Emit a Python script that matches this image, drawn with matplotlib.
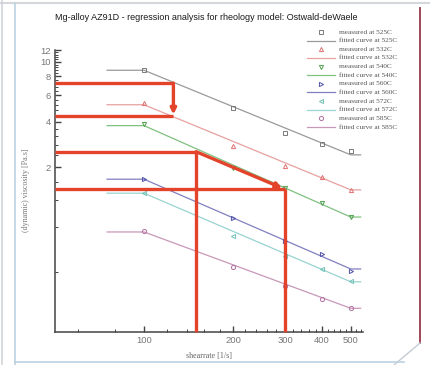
import matplotlib
matplotlib.use("Agg")
import matplotlib.pyplot as plt
from matplotlib.lines import Line2D
import numpy as np

# ---------------- data ----------------
temps = ['525C', '532C', '540C', '560C', '572C', '585C']
shear = [100, 200, 300, 400, 500]
visc_525 = [8.9, 4.92, 3.36, 2.85, 2.55]
visc_532 = [5.32, 2.77, 2.04, 1.72, 1.41]
visc_540 = [3.85, 1.97, 1.45, 1.15, 0.93]
visc_560 = [1.66, 0.91, 0.645, 0.53, 0.406]
visc_572 = [1.35, 0.70, 0.51, 0.42, 0.348]
visc_585 = [0.75, 0.43, 0.326, 0.267, 0.231]

fit_shear = [75, 100, 500, 540]
fit_525 = [8.8, 8.8, 2.41, 2.41]
fit_532 = [5.19, 5.19, 1.41, 1.41]
fit_540 = [3.77, 3.77, 0.93, 0.93]
fit_560 = [1.66, 1.66, 0.42, 0.42]
fit_572 = [1.34, 1.34, 0.345, 0.345]
fit_585 = [0.74, 0.74, 0.23, 0.23]

# red annotation guides (data coordinates)
guide1_x = [50, 125.7]
guide1_y = [7.22, 4.34]
guide2_x = [50, 150]
guide2_y = 2.53
guide2_arrow_end = (293, 1.45)
guide3_x = [50, 300]
guide3_y = 1.42

x_major = [100, 200, 300, 400, 500]
x_minor = [60, 80, 120, 140, 160, 180, 220, 240, 260, 280, 320, 340, 360, 380,
           420, 440, 460, 480, 520, 540]
y_major = [2, 4, 6, 8, 10, 12]

measured = [visc_525, visc_532, visc_540, visc_560, visc_572, visc_585]
fitted = [fit_525, fit_532, fit_540, fit_560, fit_572, fit_585]
markers = ['s', '^', 'v', '>', '<', 'o']
mcolors = ['#7a7a7a', '#e07070', '#50a050', '#5050a8', '#70c0b8', '#b070a0']
lcolors = ['#9a9a9a', '#e8a0a0', '#80c080', '#8080c0', '#98d4d0', '#c898b8']

# ---------------- figure ----------------
W, H = 430, 365
fig = plt.figure(figsize=(W / 100, H / 100), dpi=100)
fig.patch.set_facecolor('white')


def fx(x):
    return x / W


def fy(y):
    return 1 - y / H


ax = fig.add_axes([fx(55), fy(332), fx(363) - fx(55), fy(50) - fy(332)])
ax.set_xscale('log')
ax.set_yscale('log')
ax.set_xlim(50, 550)
ax.set_ylim(0.16, 12)

for vals, fvals, m, mc, lc in zip(measured, fitted, markers, mcolors, lcolors):
    ax.plot(fit_shear, fvals, color=lc, lw=0.9, zorder=2)
    ax.plot(shear, vals, linestyle='none', marker=m, markersize=3,
            markerfacecolor='none', markeredgecolor=mc, markeredgewidth=0.7, zorder=3)

# spines
for s in ['top', 'right']:
    ax.spines[s].set_visible(False)
for s in ['left', 'bottom']:
    ax.spines[s].set_color('#444444')
    ax.spines[s].set_linewidth(1.1)

ax.xaxis.set_major_locator(matplotlib.ticker.FixedLocator(x_major))
ax.xaxis.set_minor_locator(matplotlib.ticker.FixedLocator(x_minor))
ax.xaxis.set_major_formatter(matplotlib.ticker.FixedFormatter([str(v) for v in x_major]))
ax.xaxis.set_minor_formatter(matplotlib.ticker.NullFormatter())
y_minor = [round(0.4 * k, 1) for k in range(1, 30) if round(0.4 * k, 1) not in y_major]
ax.yaxis.set_major_locator(matplotlib.ticker.FixedLocator(y_major))
ax.yaxis.set_minor_locator(matplotlib.ticker.FixedLocator(y_minor))
ax.yaxis.set_major_formatter(matplotlib.ticker.FixedFormatter([str(v) for v in y_major]))
ax.yaxis.set_minor_formatter(matplotlib.ticker.NullFormatter())

ax.tick_params(which='major', direction='in', length=4.5, width=1.0, color='#444444',
               labelsize=6.8, labelcolor='#777777', pad=3)
ax.tick_params(which='minor', direction='in', length=2.2, width=0.7, color='#444444')
for lab in ax.get_xticklabels() + ax.get_yticklabels():
    lab.set_family('Liberation Sans')

ax.set_xlabel('shearrate [1/s]', family='Liberation Serif', fontsize=5.8, color='#666666',
              labelpad=1)
ax.xaxis.set_label_coords((209 - 55) / (363 - 55), -(352 - 332) / (332 - 50))
ax.set_ylabel('(dynamic) viscosity [Pa.s]', family='Liberation Serif', fontsize=5.8,
              color='#777777')
ax.yaxis.set_label_coords(-(55 - 30) / (363 - 55), (332 - 190) / (332 - 50))

# red annotations
rc = '#e3432b'
rlw = 2.4
ax.plot([guide1_x[0], guide1_x[1]], [guide1_y[0], guide1_y[0]], color=rc, lw=rlw,
        zorder=5, clip_on=False, solid_capstyle='butt')
ax.plot([guide1_x[0], guide1_x[1]], [guide1_y[1], guide1_y[1]], color=rc, lw=rlw,
        zorder=5, clip_on=False, solid_capstyle='butt')
ax.annotate('', xy=(guide1_x[1], guide1_y[1] * 1.03), xytext=(guide1_x[1], guide1_y[0]),
            arrowprops=dict(arrowstyle='-|>', color=rc, lw=rlw, mutation_scale=8,
                            shrinkA=0, shrinkB=0), zorder=5)
ax.plot(guide2_x, [guide2_y, guide2_y], color=rc, lw=rlw, zorder=5, clip_on=False,
        solid_capstyle='butt')
ax.plot([guide2_x[1], guide2_x[1]], [guide2_y, 0.16], color=rc, lw=rlw, zorder=5,
        clip_on=False, solid_capstyle='butt')
ax.annotate('', xy=guide2_arrow_end, xytext=(guide2_x[1], guide2_y),
            arrowprops=dict(arrowstyle='-|>', color=rc, lw=rlw, mutation_scale=8,
                            shrinkA=0, shrinkB=0), zorder=5)
ax.plot(guide3_x, [guide3_y, guide3_y], color=rc, lw=rlw, zorder=5, clip_on=False,
        solid_capstyle='butt')
ax.plot([guide3_x[1], guide3_x[1]], [guide3_y, 0.16], color=rc, lw=rlw, zorder=5,
        clip_on=False, solid_capstyle='butt')

# title
fig.text(fx(206), fy(17), 'Mg-alloy AZ91D - regression analysis for rheology model: Ostwald-deWaele',
         ha='center', va='center', fontsize=6.5, family='Liberation Sans', color='#1a1a1a')

# legend (manual, Tecplot style)
row0, dy = 32, 8.64
for i, (t, m, mc, lc) in enumerate(zip(temps, markers, mcolors, lcolors)):
    ym = row0 + (2 * i) * dy
    yf = row0 + (2 * i + 1) * dy
    fig.add_artist(Line2D([fx(321)], [fy(ym)], marker=m, markersize=3, linestyle='none',
                          markerfacecolor='none', markeredgecolor=mc, markeredgewidth=0.7,
                          transform=fig.transFigure))
    fig.add_artist(Line2D([fx(307), fx(335)], [fy(yf), fy(yf)], color=lc, lw=0.9,
                          transform=fig.transFigure))
    fig.text(fx(339), fy(ym), 'measured at ' + t, fontsize=5.2, family='Liberation Serif',
             color='#555555', va='center', ha='left')
    fig.text(fx(339), fy(yf), 'fitted curve at ' + t, fontsize=5.2, family='Liberation Serif',
             color='#555555', va='center', ha='left')

# screenshot frame decorations
def fl(xs, ys, c, lw):
    fig.add_artist(Line2D([fx(v) for v in xs], [fy(v) for v in ys], color=c, lw=lw,
                          transform=fig.transFigure))

fl([0, 430], [3, 3], '#d4d8dc', 1.5)
fl([2, 2], [0, 365], '#d0d4d8', 1.2)
fl([15, 15], [3, 365], '#bcd2e2', 1.2)
fl([420, 420], [8, 343], '#a04858', 1.4)
fl([420, 394], [343, 365], '#c4ccd4', 1.0)
fl([15, 404], [362, 362], '#bcd2e2', 1.2)

fig.savefig('out.png', dpi=100, facecolor='white')
